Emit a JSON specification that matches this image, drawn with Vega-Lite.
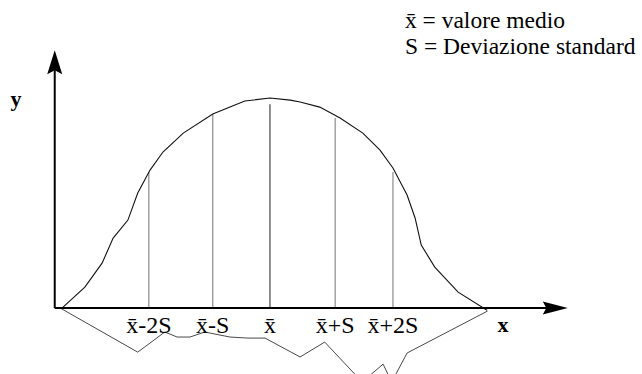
{
  "$schema": "https://vega.github.io/schema/vega-lite/v6.json",
  "width": 642,
  "height": 374,
  "autosize": {"type": "fit", "contains": "padding"},
  "padding": 0,
  "background": "white",
  "view": {"stroke": null},
  "config": {"font": "Liberation Serif"},
  "datasets": {
    "curve": [
      {"i": 0, "u": -3.40, "v": -0.005},
      {"i": 1, "u": -3.01, "v": 0.10},
      {"i": 2, "u": -2.73, "v": 0.214},
      {"i": 3, "u": -2.55, "v": 0.333},
      {"i": 4, "u": -2.31, "v": 0.419},
      {"i": 5, "u": -2.15, "v": 0.548},
      {"i": 6, "u": -1.95, "v": 0.657},
      {"i": 7, "u": -1.74, "v": 0.743},
      {"i": 8, "u": -1.41, "v": 0.833},
      {"i": 9, "u": -0.93, "v": 0.924},
      {"i": 10, "u": -0.65, "v": 0.957},
      {"i": 11, "u": -0.41, "v": 0.986},
      {"i": 12, "u": 0.0, "v": 1.0},
      {"i": 13, "u": 0.33, "v": 0.990},
      {"i": 14, "u": 0.49, "v": 0.981},
      {"i": 15, "u": 0.81, "v": 0.957},
      {"i": 16, "u": 1.14, "v": 0.905},
      {"i": 17, "u": 1.51, "v": 0.833},
      {"i": 18, "u": 1.79, "v": 0.752},
      {"i": 19, "u": 2.0, "v": 0.667},
      {"i": 20, "u": 2.23, "v": 0.538},
      {"i": 21, "u": 2.36, "v": 0.429},
      {"i": 22, "u": 2.46, "v": 0.30},
      {"i": 23, "u": 2.68, "v": 0.195},
      {"i": 24, "u": 3.06, "v": 0.076},
      {"i": 25, "u": 3.53, "v": -0.01}
    ],
    "scarti": [
      {"i": 0, "u": -3.38, "v": -0.005},
      {"i": 1, "u": -2.15, "v": -0.21},
      {"i": 2, "u": -1.71, "v": -0.114},
      {"i": 3, "u": -1.51, "v": -0.138},
      {"i": 4, "u": -1.30, "v": -0.138},
      {"i": 5, "u": -1.06, "v": -0.114},
      {"i": 6, "u": -0.65, "v": -0.138},
      {"i": 7, "u": -0.36, "v": -0.143},
      {"i": 8, "u": -0.08, "v": -0.143},
      {"i": 9, "u": 0.49, "v": -0.233},
      {"i": 10, "u": 0.89, "v": -0.162},
      {"i": 11, "u": 1.50, "v": -0.352},
      {"i": 12, "u": 1.84, "v": -0.267},
      {"i": 13, "u": 1.98, "v": -0.352},
      {"i": 14, "u": 2.23, "v": -0.214},
      {"i": 15, "u": 3.54, "v": -0.014}
    ],
    "marcatori": [
      {"u": -1.97, "base": 0, "top": 0.648, "label": "x̄-2S", "media": false},
      {"u": -0.93, "base": 0, "top": 0.924, "label": "x̄-S", "media": false},
      {"u": 0.0, "base": 0, "top": 0.971, "label": "x̄", "media": true},
      {"u": 1.06, "base": 0, "top": 0.905, "label": "x̄+S", "media": false},
      {"u": 2.0, "base": 0, "top": 0.648, "label": "x̄+2S", "media": false}
    ],
    "assi": [
      {"u": -3.50, "u2": 4.55, "v": 0.0, "v2": 0.0},
      {"u": -3.50, "u2": -3.50, "v": 0.0, "v2": 1.133}
    ],
    "frecce": [
      {"u": -3.50, "v": 1.171, "dir": "su"},
      {"u": 4.64, "v": 0.0, "dir": "destra"}
    ],
    "nomiAssi": [
      {"u": -4.13, "v": 0.995, "t": "y"},
      {"u": 3.79, "v": -0.081, "t": "x"}
    ],
    "legenda": [
      {"u": 2.195, "v": 1.369, "t": "x̄ = valore medio"},
      {"u": 2.195, "v": 1.245, "t": "S = Deviazione standard"}
    ]
  },
  "encoding": {
    "x": {"field": "u", "type": "quantitative", "axis": null,
          "scale": {"domain": [-4.39, 6.05], "nice": false, "zero": false}},
    "y": {"field": "v", "type": "quantitative", "axis": null,
          "scale": {"domain": [-0.314, 1.467], "nice": false, "zero": false}}
  },
  "layer": [
    {
      "data": {"name": "marcatori"},
      "transform": [{"filter": "!datum.media"}],
      "mark": {"type": "rule", "strokeWidth": 1.2, "color": "#8a8a8a"},
      "encoding": {
        "y": {"field": "base", "type": "quantitative"},
        "y2": {"field": "top"}
      }
    },
    {
      "data": {"name": "marcatori"},
      "transform": [{"filter": "datum.media"}],
      "mark": {"type": "rule", "strokeWidth": 1.1, "color": "#333333"},
      "encoding": {
        "y": {"field": "base", "type": "quantitative"},
        "y2": {"field": "top"}
      }
    },
    {
      "data": {"name": "curve"},
      "mark": {"type": "line", "color": "#111111", "strokeWidth": 1.1},
      "encoding": {"order": {"field": "i", "type": "quantitative"}}
    },
    {
      "data": {"name": "scarti"},
      "mark": {"type": "line", "color": "#333333", "strokeWidth": 0.9, "clip": true},
      "encoding": {"order": {"field": "i", "type": "quantitative"}}
    },
    {
      "data": {"name": "assi"},
      "mark": {"type": "rule", "color": "#000000", "strokeWidth": 2},
      "encoding": {
        "x2": {"field": "u2"},
        "y2": {"field": "v2"}
      }
    },
    {
      "data": {"name": "frecce"},
      "transform": [{"filter": "datum.dir === 'su'"}],
      "mark": {"type": "point", "filled": true, "color": "#000000", "opacity": 1,
               "shape": "M0,-1L0.625,1L0,0.667L-0.625,1Z", "size": 576}
    },
    {
      "data": {"name": "frecce"},
      "transform": [{"filter": "datum.dir === 'destra'"}],
      "mark": {"type": "point", "filled": true, "color": "#000000", "opacity": 1,
               "shape": "M1,0L-1,-0.52L-0.72,0L-1,0.52Z", "size": 625}
    },
    {
      "data": {"name": "marcatori"},
      "mark": {"type": "text", "fontSize": 24, "baseline": "middle", "align": "center", "color": "#000000", "dy": 18},
      "encoding": {
        "y": {"field": "base", "type": "quantitative"},
        "text": {"field": "label"}
      }
    },
    {
      "data": {"name": "nomiAssi"},
      "mark": {"type": "text", "fontSize": 22, "fontWeight": "bold", "baseline": "middle", "align": "center", "color": "#000000"},
      "encoding": {"text": {"field": "t"}}
    },
    {
      "data": {"name": "legenda"},
      "mark": {"type": "text", "fontSize": 23.5, "baseline": "middle", "align": "left", "color": "#000000"},
      "encoding": {"text": {"field": "t"}}
    }
  ]
}
